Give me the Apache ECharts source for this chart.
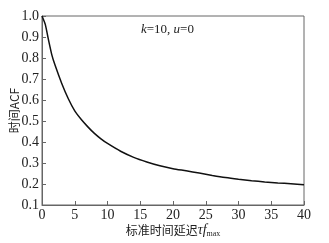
<!DOCTYPE html>
<html>
<head>
<meta charset="utf-8">
<script src="https://cdn.jsdelivr.net/npm/echarts@6/dist/echarts.min.js"></script>
<style>
  html, body { margin: 0; padding: 0; background: #fff; }
  #chart { width: 329px; height: 243px; }
</style>
</head>
<body>
<div id="chart"></div>
<script>
  // normalised delay vs. temporal ACF, k=10, u=0
  const delay = [0, 0.5, 1, 1.5, 2, 3, 4, 5, 6, 7, 8, 9, 10, 12, 14, 16, 18, 20, 22, 24, 26, 28, 30, 32, 34, 36, 38, 40];
  const acf = [1.0, 0.96, 0.885, 0.815, 0.765, 0.68, 0.607, 0.548, 0.507, 0.472, 0.441, 0.415, 0.393, 0.356, 0.327, 0.305, 0.287, 0.273, 0.263, 0.252, 0.241, 0.231, 0.223, 0.216, 0.210, 0.205, 0.201, 0.196];
  const xTicks = [0, 5, 10, 15, 20, 25, 30, 35, 40];
  const yTicks = [0.1, 0.2, 0.3, 0.4, 0.5, 0.6, 0.7, 0.8, 0.9, 1.0];

  const serif = '"Liberation Serif", "DejaVu Serif", serif';
  const cjk = '"Noto Sans CJK SC", sans-serif';
  const axisColor = '#666';

  const chart = echarts.init(document.getElementById('chart'), null, { renderer: 'canvas' });

  chart.setOption({
    animation: false,
    grid: {
      left: 42, right: 25, top: 16, bottom: 38,
      outerBoundsMode: 'none',
      containLabel: false,
      show: true, borderColor: axisColor, borderWidth: 1
    },
    xAxis: {
      type: 'value',
      min: xTicks[0],
      max: xTicks[xTicks.length - 1],
      interval: 5,
      axisLine: { lineStyle: { color: axisColor } },
      axisTick: { inside: true, length: 4, lineStyle: { color: axisColor } },
      splitLine: { show: false },
      axisLabel: { color: '#222', fontFamily: serif, fontSize: 14, margin: 3 },
      name: '{c|标准时间延迟}{i|τf}{s|max}',
      nameLocation: 'middle',
      nameGap: 18,
      nameMoveOverlap: false,
      nameTextStyle: {
        rich: {
          c: { fontFamily: cjk, fontSize: 12, color: '#222' },
          i: { fontFamily: serif, fontStyle: 'italic', fontSize: 14, color: '#222' },
          s: { fontFamily: serif, fontSize: 8, color: '#222', verticalAlign: 'bottom', padding: [7, 0, 0, 0] }
        }
      }
    },
    yAxis: {
      type: 'value',
      min: yTicks[0],
      max: yTicks[yTicks.length - 1],
      interval: 0.1,
      axisLine: { show: true, lineStyle: { color: axisColor } },
      axisTick: { show: true, inside: true, length: 4, lineStyle: { color: axisColor } },
      splitLine: { show: false },
      axisLabel: {
        color: '#222', fontFamily: serif, fontSize: 14, margin: 3,
        formatter: function (v) { return v.toFixed(1); }
      },
      name: '时间ACF',
      nameLocation: 'middle',
      nameGap: 22,
      nameRotate: 90,
      nameMoveOverlap: false,
      nameTextStyle: { fontFamily: cjk, fontSize: 12, color: '#222' }
    },
    graphic: [{
      type: 'text',
      left: 141,
      top: 23,
      style: {
        text: '{i|k}{n|=10, }{i|u}{n|=0}',
        rich: {
          i: { fontFamily: serif, fontStyle: 'italic', fontSize: 13, fill: '#222' },
          n: { fontFamily: serif, fontSize: 13, fill: '#222' }
        }
      }
    }],
    series: [{
      type: 'line',
      data: delay.map(function (d, i) { return [d, acf[i]]; }),
      smooth: 0.2,
      showSymbol: false,
      lineStyle: { color: '#111', width: 1.5 }
    }]
  });
</script>
</body>
</html>
